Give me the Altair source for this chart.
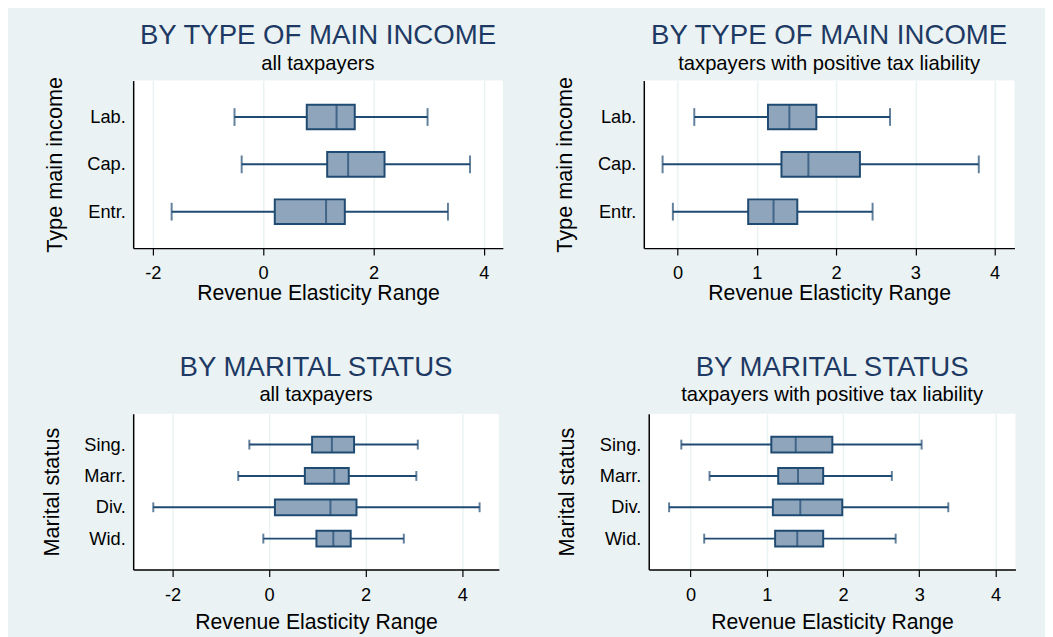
import altair as alt
import pandas as pd

# ---- data ----
income_cats = ["Lab.", "Cap.", "Entr."]
marital_cats = ["Sing.", "Marr.", "Div.", "Wid."]

# Panel 1: by type of main income, all taxpayers
p1_lw = [-0.52, -0.39, -1.66]
p1_q1 = [0.79, 1.16, 0.21]
p1_med = [1.33, 1.54, 1.14]
p1_q3 = [1.66, 2.20, 1.48]
p1_uw = [2.98, 3.75, 3.35]

# Panel 2: by type of main income, positive tax liability
p2_lw = [0.21, -0.19, -0.06]
p2_q1 = [1.14, 1.31, 0.89]
p2_med = [1.41, 1.65, 1.21]
p2_q3 = [1.75, 2.30, 1.51]
p2_uw = [2.68, 3.80, 2.46]

# Panel 3: by marital status, all taxpayers
p3_lw = [-0.41, -0.64, -2.40, -0.12]
p3_q1 = [0.89, 0.74, 0.12, 0.98]
p3_med = [1.30, 1.35, 1.27, 1.33]
p3_q3 = [1.76, 1.65, 1.81, 1.69]
p3_uw = [3.08, 3.05, 4.36, 2.79]

# Panel 4: by marital status, positive tax liability
p4_lw = [-0.12, 0.25, -0.28, 0.18]
p4_q1 = [1.06, 1.15, 1.08, 1.11]
p4_med = [1.38, 1.41, 1.44, 1.40]
p4_q3 = [1.86, 1.74, 1.99, 1.74]
p4_uw = [3.03, 2.64, 3.38, 2.69]

ticks_all = [-2, 0, 2, 4]
ticks_pos = [0, 1, 2, 3, 4]

NAVY = "#1f4a72"
FILL = "#8fa5bb"
TITLE_COLOR = "#1e3a64"
BG = "#eaf2f3"
FONT = "Liberation Sans"


def panel(cats, lw, q1, med, q3, uw, domain, ticks, title, subtitle, ytitle,
          width, height, box_h, cap_h, pad_outer, xtitle_pad, title_offset):
    df = pd.DataFrame({"cat": cats, "lw": lw, "q1": q1, "med": med,
                       "q3": q3, "uw": uw})
    xscale = alt.Scale(domain=domain, nice=False, zero=False)
    xaxis = alt.Axis(values=ticks, grid=True, gridColor=BG, gridWidth=1.5,
                     domainColor="black", domainWidth=1.5, tickColor="black",
                     tickWidth=1.2, tickSize=7, labelPadding=9,
                     labelFontSize=18.5, titleFontSize=21.5, labelFont=FONT,
                     titleFont=FONT, labelColor="black", titleColor="black",
                     titleFontWeight="normal", titlePadding=xtitle_pad,
                     labelExpr="'' + datum.value")
    yenc = alt.Y("cat:N", sort=cats,
                 scale=alt.Scale(paddingInner=0, paddingOuter=pad_outer),
                 axis=alt.Axis(title=ytitle, ticks=False, tickSize=0,
                               grid=False, domainColor="black", domainWidth=1.5,
                               labelPadding=8, labelFontSize=18.5,
                               titleFontSize=22, labelFont=FONT, titleFont=FONT,
                               labelColor="black", titleColor="black",
                               titleFontWeight="normal", titlePadding=21))
    base = alt.Chart(df)
    whisk = base.mark_rule(color=NAVY, strokeWidth=2).encode(
        x=alt.X("lw:Q", scale=xscale, axis=xaxis,
                title="Revenue Elasticity Range"),
        x2="uw:Q", y=yenc)
    box = base.mark_bar(size=box_h, fill=FILL, stroke=NAVY,
                        strokeWidth=2).encode(x="q1:Q", x2="q3:Q", y=yenc)
    medt = base.mark_tick(color=NAVY, thickness=2, size=box_h).encode(
        x="med:Q", y=yenc)
    capl = base.mark_tick(color=NAVY, thickness=2, size=cap_h).encode(
        x="lw:Q", y=yenc)
    capr = base.mark_tick(color=NAVY, thickness=2, size=cap_h).encode(
        x="uw:Q", y=yenc)
    return alt.layer(whisk, box, medt, capl, capr).properties(
        width=width, height=height,
        title=alt.TitleParams(text=title, subtitle=subtitle, fontSize=28,
                              subtitleFontSize=20.5, font=FONT,
                              subtitleFont=FONT, fontWeight="normal",
                              color=TITLE_COLOR, subtitleColor="black",
                              anchor="middle", frame="group",
                              offset=title_offset, subtitlePadding=4))


p1 = panel(income_cats, p1_lw, p1_q1, p1_med, p1_q3, p1_uw,
           [-2.357, 4.345], ticks_all, "BY TYPE OF MAIN INCOME",
           "all taxpayers", "Type main income", 375, 170, 25, 18, 0.27, 1, 2)
p2 = panel(income_cats, p2_lw, p2_q1, p2_med, p2_q3, p2_uw,
           [-0.427, 4.25], ticks_pos, "BY TYPE OF MAIN INCOME",
           "taxpayers with positive tax liability", "Type main income",
           376, 170, 25, 18, 0.27, 1, 2)
p3 = panel(marital_cats, p3_lw, p3_q1, p3_med, p3_q3, p3_uw,
           [-2.816, 4.76], ticks_all, "BY MARITAL STATUS",
           "all taxpayers", "Marital status", 371, 158, 16, 10, 0.485, 8, 8)
p4 = panel(marital_cats, p4_lw, p4_q1, p4_med, p4_q3, p4_uw,
           [-0.547, 4.26], ticks_pos, "BY MARITAL STATUS",
           "taxpayers with positive tax liability", "Marital status",
           372, 158, 16, 10, 0.485, 8, 8)

top = alt.hconcat(p1, p2, spacing=51)
bottom = alt.hconcat(p3, p4, spacing=57)

chart = alt.vconcat(top, bottom, spacing=50).properties(
    background=BG,
    padding={"top": 10, "left": 32, "right": 30, "bottom": 8},
).configure_view(fill="white", stroke=None)

chart.save("out.html", embed_options={"renderer": "svg", "actions": False})
